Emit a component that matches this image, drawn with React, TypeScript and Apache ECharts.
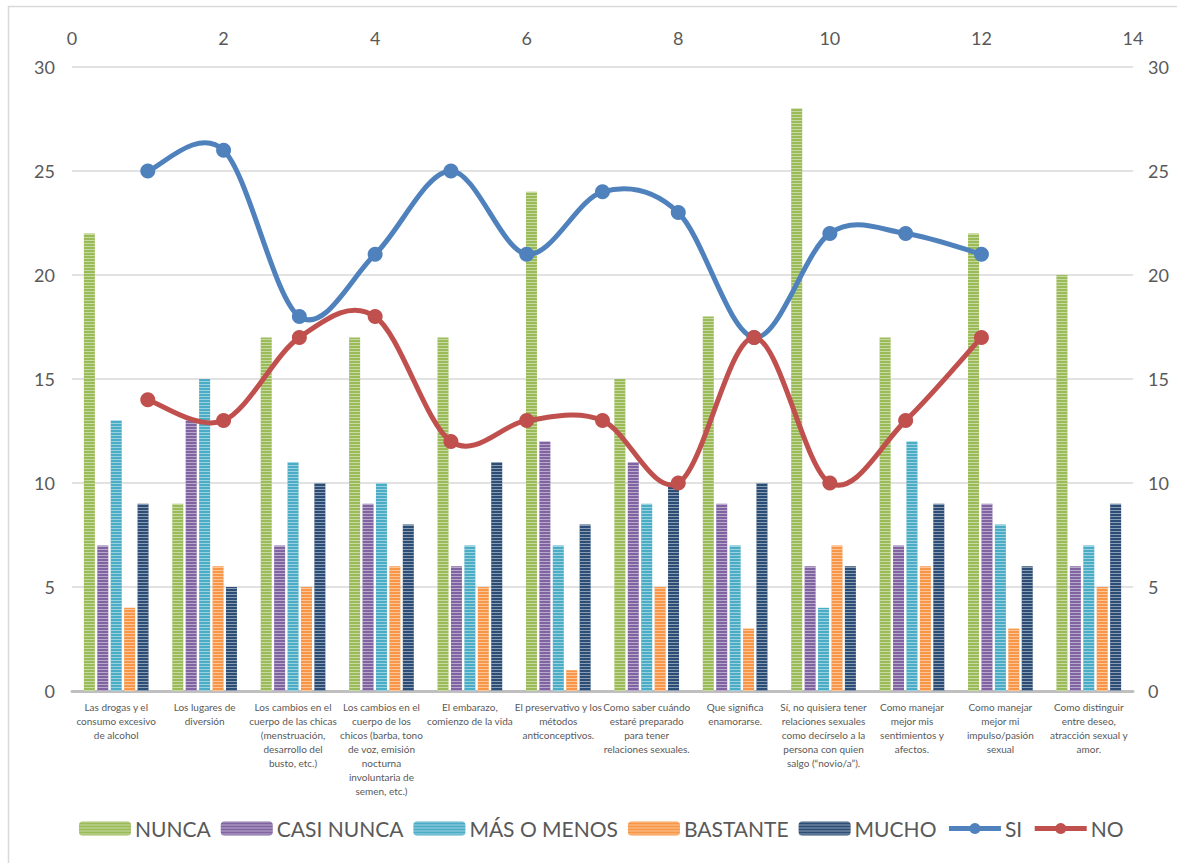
import React, { useEffect, useRef } from "react";
import * as echarts from "echarts";

// Temas consultados (eje de categorías), con sus cortes de línea
const categories = [
  "Las drogas y el\nconsumo excesivo\nde alcohol",
  "Los lugares de\ndiversión",
  "Los cambios en el\ncuerpo de las chicas\n(menstruación,\ndesarrollo del\nbusto, etc.)",
  "Los cambios en el\ncuerpo de los\nchicos (barba, tono\nde voz, emisión\nnocturna\ninvoluntaria de\nsemen, etc.)",
  "El embarazo,\ncomienzo de la vida",
  "El preservativo y los\nmétodos\nanticonceptivos.",
  "Como saber cuándo\nestaré preparado\npara tener\nrelaciones sexuales.",
  "Que significa\nenamorarse.",
  "Sí, no quisiera tener\nrelaciones sexuales\ncomo decírselo a la\npersona con quien\nsalgo (“novio/a”).",
  "Como manejar\nmejor mis\nsentimientos y\nafectos.",
  "Como manejar\nmejor mi\nimpulso/pasión\nsexual",
  "Como distinguir\nentre deseo,\natracción sexual y\namor.",
];

const nunca = [22, 9, 17, 17, 17, 24, 15, 18, 28, 17, 22, 20];
const casiNunca = [7, 13, 7, 9, 6, 12, 11, 9, 6, 7, 9, 6];
const masOMenos = [13, 15, 11, 10, 7, 7, 9, 7, 4, 12, 8, 7];
const bastante = [4, 6, 5, 6, 5, 1, 5, 3, 7, 6, 3, 5];
const mucho = [9, 5, 10, 8, 11, 8, 10, 10, 6, 9, 6, 9];

// Serie SI / NO sobre los ejes secundarios (x = 1..12)
const si = [25, 26, 18, 21, 25, 21, 24, 23, 17, 22, 22, 21];
const no = [14, 13, 17, 18, 12, 13, 13, 10, 17, 10, 13, 17];

const topTicks = { min: 0, max: 14, interval: 2 };
const sideTicks = { min: 0, max: 30, interval: 5 };

const FONT = "Lato, 'Open Sans', sans-serif";
const TXT = "#595959";
const BLUE = "#4F81BD";
const RED = "#C0504D";

const stripes = {
  symbol: "rect",
  symbolSize: 1,
  dashArrayX: [1, 0],
  dashArrayY: [1, 2],
  color: "rgba(255,255,255,0.45)",
  rotation: 0,
};

function barSeries(name: string, data: number[], color: string) {
  return {
    name,
    type: "bar",
    xAxisIndex: 0,
    yAxisIndex: 0,
    data,
    barWidth: 11,
    barGap: "22%",
    itemStyle: { color, decal: stripes },
  };
}

const points = (values: number[]) => values.map((v, i) => [i + 1, v]);

// Marcadores (y entrada de leyenda) de SI / NO
function markerSeries(name: string, values: number[], color: string) {
  return {
    name,
    type: "line",
    xAxisIndex: 1,
    yAxisIndex: 1,
    data: points(values),
    symbol: "circle",
    symbolSize: 15,
    lineStyle: { width: 5, color, opacity: 0 },
    itemStyle: { color },
    z: 6,
  };
}

// Curva suavizada (Catmull-Rom) que pasa por los puntos de la serie
function curveSeries(name: string, values: number[], color: string) {
  return {
    name,
    type: "custom",
    xAxisIndex: 1,
    yAxisIndex: 1,
    data: points(values),
    z: 5,
    silent: true,
    renderItem: (params: any, api: any) => {
      if (params.dataIndex !== 0) return null;
      const p = values.map((v, i) => api.coord([i + 1, v]));
      const n = p.length;
      let d = `M${p[0][0]},${p[0][1]}`;
      for (let i = 0; i < n - 1; i++) {
        const p0 = p[Math.max(i - 1, 0)];
        const p1 = p[i];
        const p2 = p[i + 1];
        const p3 = p[Math.min(i + 2, n - 1)];
        const c1x = p1[0] + (p2[0] - p0[0]) / 6;
        const c1y = p1[1] + (p2[1] - p0[1]) / 6;
        const c2x = p2[0] - (p3[0] - p1[0]) / 6;
        const c2y = p2[1] - (p3[1] - p1[1]) / 6;
        d += ` C${c1x},${c1y} ${c2x},${c2y} ${p2[0]},${p2[1]}`;
      }
      return {
        type: "path",
        shape: { pathData: d },
        style: { fill: "none", stroke: color, lineWidth: 5, lineCap: "round", lineJoin: "round" },
      };
    },
  };
}

export default function App() {
  const ref = useRef<HTMLDivElement>(null);

  useEffect(() => {
    if (!ref.current) return;
    const chart = echarts.init(ref.current, undefined, { renderer: "svg" });
    chart.setOption({
      animation: false,
      backgroundColor: "#ffffff",
      textStyle: { fontFamily: FONT },
      graphic: [
        {
          type: "rect",
          shape: { x: 8.5, y: 6.5, width: 1200, height: 900 },
          style: { fill: "none", stroke: "#D9D9D9", lineWidth: 1.5 },
          silent: true,
        },
      ],
      grid: { left: 72, right: 44, top: 67, bottom: 172 },
      legend: {
        bottom: 19,
        left: 74,
        itemWidth: 52,
        itemHeight: 14,
        itemGap: 10,
        textStyle: { fontSize: 21, color: TXT, fontFamily: FONT, padding: [0, 0, 0, -1] },
        data: [
          "NUNCA",
          "CASI NUNCA",
          "MÁS O MENOS",
          "BASTANTE",
          "MUCHO",
          { name: "SI", lineStyle: { opacity: 1, width: 5, color: BLUE } },
          { name: "NO", lineStyle: { opacity: 1, width: 5, color: RED } },
        ],
      },
      xAxis: [
        {
          type: "category",
          position: "bottom",
          data: categories,
          axisTick: { show: false },
          axisLine: { lineStyle: { color: "#BFBFBF", width: 3 } },
          axisLabel: {
            interval: 0,
            fontSize: 10,
            lineHeight: 14,
            color: TXT,
            margin: 9,
            fontFamily: FONT,
          },
        },
        {
          type: "value",
          position: "top",
          ...topTicks,
          axisLine: { show: false },
          axisTick: { show: false },
          splitLine: { show: false },
          axisLabel: { fontSize: 18, color: TXT, margin: 20, fontFamily: FONT },
        },
      ],
      yAxis: [
        {
          type: "value",
          position: "left",
          ...sideTicks,
          axisLine: { show: false },
          axisTick: { show: false },
          splitLine: { lineStyle: { color: "#D9D9D9", width: 1.5 } },
          axisLabel: { fontSize: 18, color: TXT, margin: 17, fontFamily: FONT },
        },
        {
          type: "value",
          position: "right",
          ...sideTicks,
          axisLine: { show: false },
          axisTick: { show: false },
          splitLine: { show: false },
          axisLabel: { fontSize: 18, color: TXT, margin: 15, fontFamily: FONT },
        },
      ],
      series: [
        barSeries("NUNCA", nunca, "#9BBB59"),
        barSeries("CASI NUNCA", casiNunca, "#8064A2"),
        barSeries("MÁS O MENOS", masOMenos, "#4BACC6"),
        barSeries("BASTANTE", bastante, "#F79646"),
        barSeries("MUCHO", mucho, "#2C4D75"),
        markerSeries("SI", si, BLUE),
        markerSeries("NO", no, RED),
        curveSeries("SI curva", si, BLUE),
        curveSeries("NO curva", no, RED),
      ],
    });
    return () => chart.dispose();
  }, []);

  return (
    <div
      ref={ref}
      style={{ position: "absolute", left: 0, top: 0, width: 1177, height: 863 }}
    />
  );
}
